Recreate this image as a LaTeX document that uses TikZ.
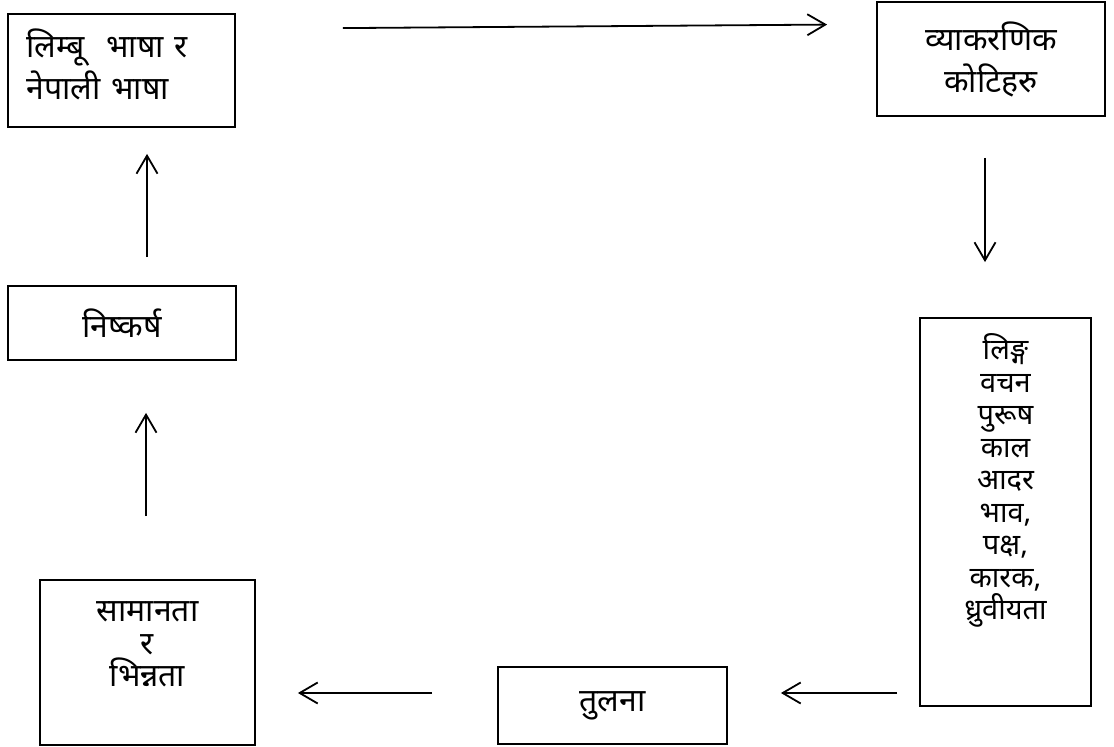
\documentclass[tikz,border=0pt]{standalone}
\usepackage{fontspec}
\setmainfont{Noto Sans}[Script=Devanagari]
\usetikzlibrary{arrows.meta}

\begin{document}
\begin{tikzpicture}[x=0.5pt, y=-0.5pt,
    box/.style={draw, line width=0.9pt, align=center, font=\fontsize{16}{16.25}\selectfont},
    flow/.style={line width=0.9pt, -{Straight Barb[length=9pt, width=10.5pt, line width=0.9pt]}}]
    \useasboundingbox (0,0) rectangle (1114,747);
    % boxes
    \node[box, minimum width=113.5pt, minimum height=56.5pt, text width=95pt, align=left, text depth=27.5pt,
          font=\fontsize{16}{21}\selectfont] (limbu) at (121.5,70.5) {लिम्बू~~भाषा र\\नेपाली भाषा};
    \node[box, minimum width=114pt, minimum height=57pt,
          font=\fontsize{16}{21}\selectfont] (koti) at (991,59) {व्याकरणिक\\कोटिहरु};
    \node[box, minimum width=85.5pt, minimum height=194pt, text depth=35pt,
          font=\fontsize{14.5}{16.25}\selectfont] (kotilist) at (1005.5,512)
        {लिङ्ग\\वचन\\पुरूष\\काल\\आदर\\भाव,\\पक्ष,\\कारक,\\ध्रुवीयता};
    \node[box, minimum width=114.5pt, minimum height=38.5pt] (tulana) at (612.5,705.5) {तुलना};
    \node[box, minimum width=107.5pt, minimum height=82.5pt, text depth=18pt] (saman) at (147.5,662.5)
        {सामानता\\र\\भिन्नता};
    \node[box, minimum width=114pt, minimum height=37pt] (nishkarsh) at (122,323) {निष्कर्ष};
    % arrows
    \draw[flow] ([shift={(107,15)}]limbu.north east) -- ([shift={(-49,23.5)}]koti.north west);
    \draw[flow] ([shift={(-6,41)}]koti.south) -- ([shift={(-20.5,-55)}]kotilist.north);
    \draw[flow] ([shift={(-22,181)}]kotilist.west) -- ([shift={(53,-12.5)}]tulana.east);
    \draw[flow] ([shift={(-65,-12.5)}]tulana.west) -- ([shift={(42,30.5)}]saman.east);
    \draw[flow] ([shift={(-1.5,-63)}]saman.north) -- ([shift={(24,52)}]nishkarsh.south);
    \draw[flow] ([shift={(25,-28)}]nishkarsh.north) -- ([shift={(25.5,26)}]limbu.south);
\end{tikzpicture}
\end{document}
